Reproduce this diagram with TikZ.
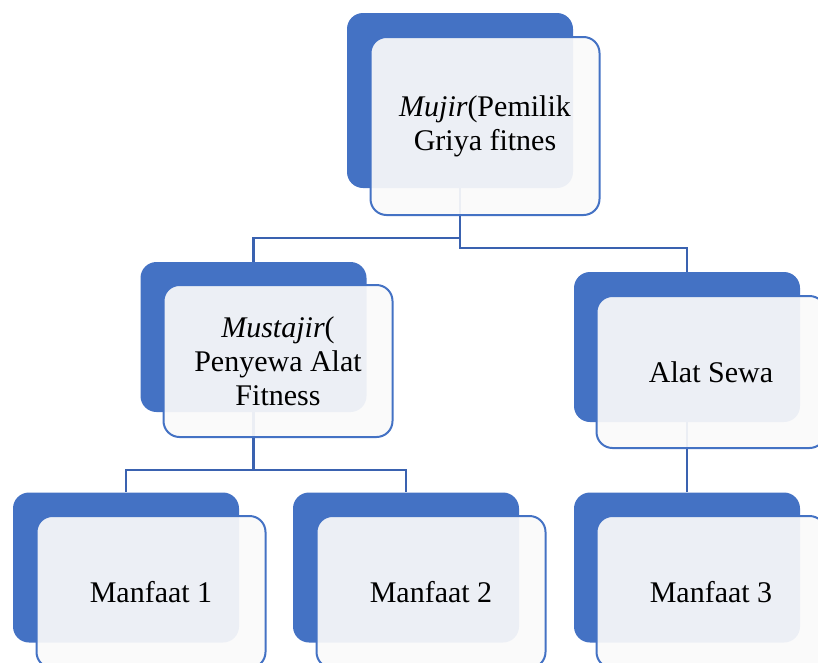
\documentclass[tikz,border=0pt]{standalone}
\usepackage{fontspec}
\setmainfont{Liberation Serif}
\usetikzlibrary{positioning}
\definecolor{boxblue}{HTML}{4472C4}
\definecolor{linkblue}{HTML}{3A62B0}
\definecolor{boxwhite}{HTML}{FAFAFA}
\tikzset{
x=1pt, y=-1pt, % picture coordinates are pixels, counted from the top
back/.style={fill=boxblue, rounded corners=16pt, minimum width=226pt, minimum height=150pt, inner sep=0pt}, % the blue card behind
front/.style={draw=boxblue, line width=2pt, fill=boxwhite, fill opacity=.925, text opacity=1,
  rounded corners=16pt, minimum width=229pt, minimum height=152pt, inner sep=0pt,
  align=center, font=\fontsize{30}{34}\selectfont}, % the light card in front
link/.style={draw=linkblue, line width=2.2pt}, % the tree lines
}
\begin{document}
\begin{tikzpicture}
        \clip (0,0) rectangle (818,662);
        \useasboundingbox (0,0) rectangle (818,662);

        % blue cards
        \node[back, minimum height=175pt] (mujirB) at (460,100.5) {};
        \node[back] (mustajirB) at (253.5,337) {};
        \node[back] (alatB) at (687,347) {};
        \node[back] (m1B) at (126,567.5) {};
        \node[back] (m2B) at (406,567.5) {};
        \node[back] (m3B) at (687,567.5) {};

        % tree lines
        \draw[link] (mujirB.south) -- ++(0,-50pt) -| (mustajirB.north);
        \draw[link] (mujirB.south) -- ++(0,-60pt) -| (alatB.north);
        \draw[link] (mustajirB.south) -- ++(0,-58pt) -| (m1B.north);
        \draw[link] (mustajirB.south) -- ++(0,-58pt) -| (m2B.north);
        \draw[link] (alatB.south) -- (m3B.north);

        % light cards with the texts
        \node[front, minimum height=178pt] (mujir) at (485,126) {{\itshape Mujir}(Pemilik\\Griya fitnes};
        \node[front] (mustajir) at (278,361) {{\itshape Mustajir}(\\Penyewa Alat\\Fitness};
        \node[front] (alat) at (711,372) {Alat Sewa};
        \node[front] (m1) at (151,592) {Manfaat 1};
        \node[front] (m2) at (431,592) {Manfaat 2};
        \node[front] (m3) at (711,592) {Manfaat 3};
\end{tikzpicture}
\end{document}
